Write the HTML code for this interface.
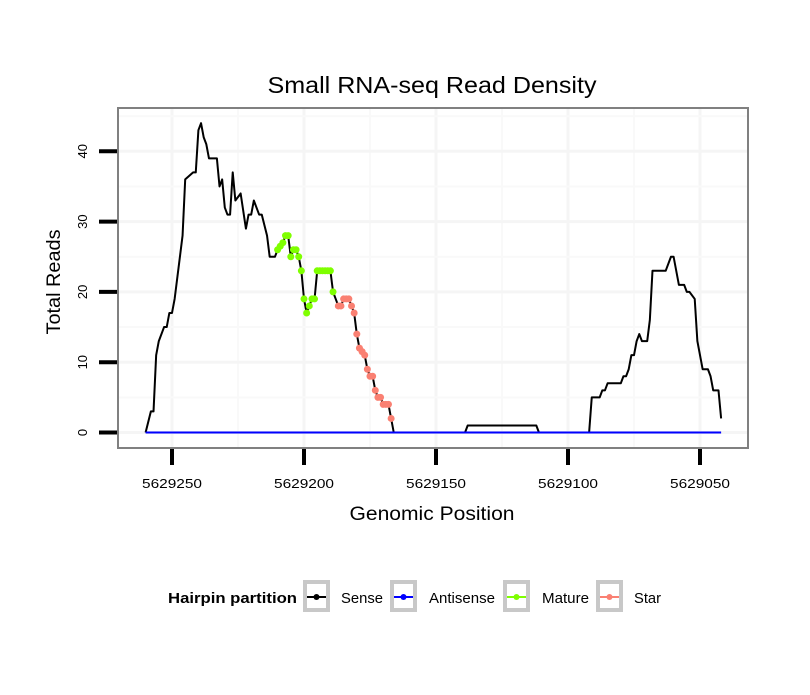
<!DOCTYPE html>
<html><head><meta charset="utf-8"><style>
body{margin:0;background:#fff;font-family:"Liberation Sans",sans-serif}
svg text{font-family:"Liberation Sans",sans-serif}
</style></head><body>
<svg id="chart" width="810" height="690" xmlns="http://www.w3.org/2000/svg">
<rect width="810" height="690" fill="#fff"/>
<text x="432" y="93" font-size="23" text-anchor="middle" textLength="329" lengthAdjust="spacingAndGlyphs">Small RNA-seq Read Density</text>
<g id="grid"></g>
<g id="series"></g>
<rect x="118" y="108" width="630" height="340" fill="none" stroke="#808080" stroke-width="2"/>
<g id="axes"></g>
<text x="432" y="520" font-size="19" text-anchor="middle" textLength="165" lengthAdjust="spacingAndGlyphs">Genomic Position</text>
<text transform="translate(60,282) rotate(-90)" font-size="19" text-anchor="middle" textLength="105" lengthAdjust="spacingAndGlyphs">Total Reads</text>
<g>
<text x="168" y="603" font-size="15" font-weight="bold" textLength="129" lengthAdjust="spacingAndGlyphs">Hairpin partition</text>
<g><rect x="305" y="582" width="23" height="28" fill="#fff" stroke="#c8c8c8" stroke-width="4"/><line x1="307" y1="597" x2="326" y2="597" stroke="#000" stroke-width="2"/><circle cx="316.5" cy="597" r="3" fill="#000"/><text x="341" y="603" font-size="15" textLength="42" lengthAdjust="spacingAndGlyphs">Sense</text></g>
<g><rect x="392" y="582" width="23" height="28" fill="#fff" stroke="#c8c8c8" stroke-width="4"/><line x1="394" y1="597" x2="413" y2="597" stroke="#0000ff" stroke-width="2"/><circle cx="403.5" cy="597" r="3" fill="#0000ff"/><text x="429" y="603" font-size="15" textLength="66" lengthAdjust="spacingAndGlyphs">Antisense</text></g>
<g><rect x="505" y="582" width="23" height="28" fill="#fff" stroke="#c8c8c8" stroke-width="4"/><line x1="507" y1="597" x2="526" y2="597" stroke="#7fff00" stroke-width="2"/><circle cx="516.5" cy="597" r="3" fill="#7fff00"/><text x="542" y="603" font-size="15" textLength="47" lengthAdjust="spacingAndGlyphs">Mature</text></g>
<g><rect x="598" y="582" width="23" height="28" fill="#fff" stroke="#c8c8c8" stroke-width="4"/><line x1="600" y1="597" x2="619" y2="597" stroke="#fa8072" stroke-width="2"/><circle cx="609.5" cy="597" r="3" fill="#fa8072"/><text x="634" y="603" font-size="15" textLength="27" lengthAdjust="spacingAndGlyphs">Star</text></g>
</g>
</svg>
<script>
const positions=[5629260,5629258,5629257,5629256,5629255,5629253,5629252,5629251,5629250,5629249,5629246,5629245,5629242,5629241,5629240,5629239,5629238,5629237,5629236,5629233,5629232,5629231,5629230,5629229,5629228,5629227,5629226,5629224,5629222,5629221,5629220,5629219,5629217,5629216,5629214,5629213,5629211,5629210,5629208,5629207,5629206,5629205,5629204,5629203,5629202,5629201,5629200,5629199,5629198,5629197,5629196,5629195,5629190,5629189,5629187,5629186,5629185,5629183,5629182,5629181,5629180,5629179,5629177,5629176,5629175,5629174,5629173,5629172,5629171,5629170,5629168,5629167,5629166,5629139,5629138,5629112,5629111,5629092,5629091,5629088,5629087,5629086,5629085,5629080,5629079,5629078,5629077,5629076,5629075,5629074,5629073,5629072,5629070,5629069,5629068,5629063,5629061,5629060,5629058,5629056,5629055,5629054,5629052,5629051,5629049,5629047,5629046,5629045,5629043,5629042];
const senseReads=[0,3,3,11,13,15,15,17,17,19,28,36,37,37,43,44,42,41,39,39,35,36,32,31,31,37,33,34,29,31,31,33,31,31,28,25,25,26,27,28,28,25,26,26,25,23,19,17,18,19,19,23,23,20,18,18,19,19,18,17,14,12,11,9,8,8,6,5,5,4,4,2,0,0,1,1,0,0,5,5,6,6,7,7,8,8,9,11,11,13,14,13,13,16,23,23,25,25,21,21,20,20,19,13,9,9,8,6,6,2];
const antisenseRange=[5629260,5629042];
const antisenseReads=[0,0];
const matureRange=[5629210,5629189];
const starRange=[5629187,5629167];
const xTicks=[5629250,5629200,5629150,5629100,5629050];
const yTicks=[0,10,20,30,40];
const NS="http://www.w3.org/2000/svg";
const X=p=>172+(5629250-p)*2.64;
const Y=v=>432.5-v*7.03;
function mk(tag,attrs,parent){const e=document.createElementNS(NS,tag);for(const k in attrs)e.setAttribute(k,attrs[k]);parent.appendChild(e);return e;}
const grid=document.getElementById('grid'),series=document.getElementById('series'),axes=document.getElementById('axes');
for(let i=0;i<xTicks.length;i++){
  const gx=mk('line',{x1:X(xTicks[i]),x2:X(xTicks[i]),y1:109,y2:447,stroke:'#f5f5f5','stroke-width':3},grid);
  
  
  if(i<xTicks.length-1){const m=(xTicks[i]+xTicks[i+1])/2;
    const gm=mk('line',{x1:X(m),x2:X(m),y1:109,y2:447,stroke:'#f9f9f9','stroke-width':2},grid);
    
    }
}
for(let i=0;i<yTicks.length;i++){
  const gy=mk('line',{x1:119,x2:747,y1:Y(yTicks[i]),y2:Y(yTicks[i]),stroke:'#f5f5f5','stroke-width':3},grid);
  
  
  const m=yTicks[i]+5;
  const gm=mk('line',{x1:119,x2:747,y1:Y(m),y2:Y(m),stroke:'#f9f9f9','stroke-width':2},grid);
  
  
}
const pts=positions.map((p,i)=>X(p)+','+Y(senseReads[i])).join(' ');
const sl=mk('polyline',{points:pts,fill:'none',stroke:'#000','stroke-width':2,'stroke-linejoin':'round'},series);


const al=mk('line',{x1:X(antisenseRange[0]),x2:X(antisenseRange[1]),y1:Y(antisenseReads[0]),y2:Y(antisenseReads[1]),stroke:'#0000ff','stroke-width':2},series);


function interp(p){for(let i=0;i<positions.length-1;i++){const a=positions[i],b=positions[i+1];if(p<=a&&p>=b){const t=(a-p)/(a-b||1);return senseReads[i]+t*(senseReads[i+1]-senseReads[i]);}}return 0;}
function markers(range,color,name){for(let p=range[0];p>=range[1];p--){
  const c=mk('circle',{cx:X(p),cy:Y(interp(p)),r:3.5,fill:color},series);
  
  }}
markers(matureRange,'#7fff00','mature-point');
markers(starRange,'#fa8072','star-point');
xTicks.forEach(t=>{
  const l=mk('line',{x1:X(t),x2:X(t),y1:449,y2:465,stroke:'#000','stroke-width':4},axes);
  
  
  const tx=mk('text',{x:X(t),y:488,'font-size':13,'text-anchor':'middle',textLength:60,lengthAdjust:'spacingAndGlyphs'},axes);
  tx.textContent=t;
  
  
});
yTicks.forEach(t=>{
  const l=mk('line',{x1:99,x2:117,y1:Y(t),y2:Y(t),stroke:'#000','stroke-width':4},axes);
  
  
  const tx=mk('text',{transform:'translate(87,'+Y(t)+') rotate(-90)','font-size':13,'text-anchor':'middle'},axes);
  tx.textContent=t;
  
  
});
</script>
</body></html>
